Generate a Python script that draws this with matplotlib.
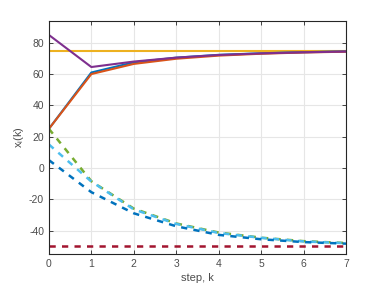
import matplotlib
matplotlib.use("Agg")
import matplotlib.pyplot as plt

plt.rcParams["font.family"] = ["Liberation Sans", "DejaVu Sans"]
plt.rcParams["axes.unicode_minus"] = False

steps = [0, 1, 2, 3, 4, 5, 6, 7]
x_yellow = [75, 75, 75, 75, 75, 75, 75, 75]
x_purple = [85, 64.5, 68, 70.5, 72.2, 73.2, 73.9, 74.4]
x_blue = [25, 61, 67.5, 70.5, 72.3, 73.3, 74.0, 74.5]
x_orange = [25, 60, 66.5, 69.8, 71.8, 73.0, 73.8, 74.3]
x_green = [25, -8.5, -26, -35.5, -41.3, -44.6, -46.8, -48.0]
x_lblue = [15, -8.7, -26.5, -35.8, -41.6, -44.7, -47.0, -48.1]
x_dblue = [5, -15.5, -29, -37.3, -42.8, -45.6, -47.4, -48.4]
x_red = [-50, -50, -50, -50, -50, -50, -50, -50]

fig = plt.figure(figsize=(3.82, 2.86), dpi=100)
ax = fig.add_axes([0.128, 0.112, 0.778, 0.815])

lw = 1.5
ax.plot(steps, x_yellow, color="#EDB120", lw=lw)
ax.plot(steps, x_blue, color="#0072BD", lw=lw)
ax.plot(steps, x_orange, color="#D95319", lw=lw)
ax.plot(steps, x_purple, color="#7E2F8E", lw=lw)
dl = 1.8
dash = (0, (2.5, 2.5))
ax.plot(steps, x_green, color="#77AC30", lw=dl, ls=dash)
ax.plot(steps, x_lblue, color="#4DBEEE", lw=dl, ls=dash)
ax.plot(steps, x_dblue, color="#0072BD", lw=dl, ls=dash)
ax.plot(steps, x_red, color="#A2142F", lw=dl, ls=dash)

ax.set_xlim(0, 7)
ax.set_ylim(-55, 94)
ax.set_xticks(range(0, 8))
ax.set_yticks([-40, -20, 0, 20, 40, 60, 80])
ax.grid(True, color="#e6e6e6", lw=0.8)
ax.set_axisbelow(True)
ax.tick_params(direction="in", length=3, width=0.6, labelsize=7.5,
               top=True, right=True, colors="#262626", labelcolor="#4d4d4d")
for s in ax.spines.values():
    s.set_color("#262626")
    s.set_linewidth(0.8)
ax.set_xlabel("step, k", fontsize=8, color="#4d4d4d", labelpad=3)
ax.set_ylabel(r"x$_\mathregular{i}$(k)", fontsize=8, color="#4d4d4d", labelpad=2)
fig.savefig("out.png", dpi=100)
